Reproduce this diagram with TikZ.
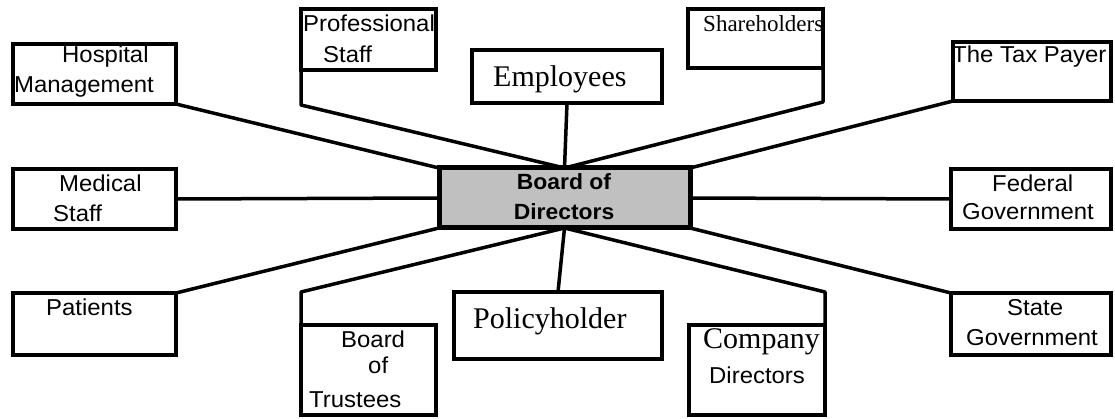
\documentclass[tikz,border=0pt]{standalone}
\usepackage{fontspec}
\newfontfamily\sansf[FakeStretch=1.04]{Liberation Sans}
\newfontfamily\seriff{Liberation Serif}
\definecolor{boardgray}{HTML}{C0C0C0}
\begin{document}
\begin{tikzpicture}[x=1pt,y=-1pt,
  box/.style={draw, line width=4pt, inner sep=0pt, outer sep=0pt, fill=white},
  link/.style={line width=3.5pt, line join=round},
  lbl/.style={anchor=base west, inner sep=0pt, font=\sansf\fontsize{23}{27}\selectfont},
  slbl/.style={anchor=base west, inner sep=0pt, font=\seriff\fontsize{30}{34}\selectfont},
  sslbl/.style={anchor=base west, inner sep=0pt, font=\seriff\fontsize{23}{27}\selectfont},
  blbl/.style={anchor=base, inner sep=0pt, font=\sansf\bfseries\fontsize{22}{26}\selectfont}]
\useasboundingbox (0,0) rectangle (1115,419);

% central box
\node[box, fill=boardgray, line width=5pt, minimum width=251pt, minimum height=60pt] (board) at (564.5,198) {};

% surrounding boxes
\node[box, minimum width=163pt, minimum height=60pt] (hosp)   at (94.5,74)   {};
\node[box, minimum width=163pt, minimum height=60pt] (med)    at (94.5,199)  {};
\node[box, minimum width=163pt, minimum height=62pt] (pat)    at (94.5,324)  {};
\node[box, minimum width=135pt, minimum height=61pt] (prof)   at (368.5,39.5){};
\node[box, minimum width=190pt, minimum height=53pt] (emp)    at (567,76.5)  {};
\node[box, minimum width=135pt, minimum height=59pt] (share)  at (755.5,38.5){};
\node[box, minimum width=158pt, minimum height=59pt] (tax)    at (1032,71.5) {};
\node[box, minimum width=160pt, minimum height=60pt] (fed)    at (1031,199)  {};
\node[box, minimum width=160pt, minimum height=62pt] (state)  at (1031,324)  {};
\node[box, minimum width=135pt, minimum height=90pt] (trust)  at (368.5,370) {};
\node[box, minimum width=208pt, minimum height=67pt] (policy) at (558,325.5) {};
\node[box, minimum width=136pt, minimum height=90pt] (comp)   at (757,370)   {};

% bend points of the elbow connectors
\coordinate (profbend)  at (301,105);
\coordinate (sharebend) at (823,102);
\coordinate (trustbend) at (301,292);
\coordinate (compbend)  at (825,292);

% connectors
\draw[link] (hosp.south east) -- (board.north west);
\draw[link] (prof.south west) -- (profbend) -- (board.north);
\draw[link] (emp.south) -- (board.north);
\draw[link] (share.south east) -- (sharebend) -- (board.north);
\draw[link] (tax.south west) -- (board.north east);
\draw[link] (med.east) -- (board.west);
\draw[link] (board.east) -- (fed.west);
\draw[link] (pat.north east) -- (board.south west);
\draw[link] (trust.north west) -- (trustbend) -- (board.south);
\draw[link] (board.south) -- (policy.north);
\draw[link] (board.south) -- (compbend) -- (comp.north east);
\draw[link] (board.south east) -- (state.north west);

% labels
\node[blbl] (tboard1) at (564,190) {Board of};
\node[blbl] (tboard2) at (564,220) {Directors};

\node[lbl] (thosp1) at (62,63) {Hospital};
\node[lbl] (thosp2) at (14,93) {Management};
\node[lbl] (tmed1) at (59,192) {Medical};
\node[lbl] (tmed2) at (53,222) {Staff};
\node[lbl] (tpat) at (46,315) {Patients};

\node[lbl] (tprof1) at (303,32) {Professional};
\node[lbl] (tprof2) at (323,63) {Staff};
\node[slbl] (temp) at (493,87) {Employees};
\node[sslbl] (tshare) at (703,32) {Shareholders};
\node[lbl] (ttax) at (952,63) {The Tax Payer};

\node[lbl] (tfed1) at (992,192) {Federal};
\node[lbl] (tfed2) at (962,220) {Government};
\node[lbl] (tstate1) at (1007,315) {State};
\node[lbl] (tstate2) at (966,345) {Government};

\node[lbl] (ttrust1) at (341,347) {Board};
\node[lbl] (ttrust2) at (368,373) {of};
\node[lbl] (ttrust3) at (309,407) {Trustees};
\node[slbl] (tpolicy) at (473,328) {Policyholder};
\node[slbl] (tcomp1) at (703,348) {Company};
\node[lbl] (tcomp2) at (709,383) {Directors};
\end{tikzpicture}
\end{document}
